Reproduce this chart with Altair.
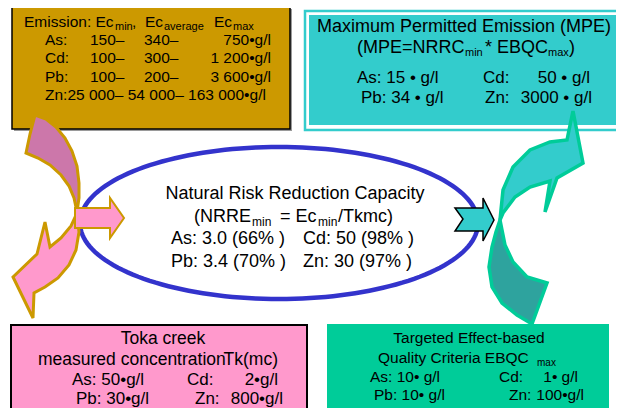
import math
import altair as alt
import pandas as pd

# ---------------- values shown in the diagram ----------------
elements = ["As", "Cd", "Pb", "Zn"]
ec_min = ["150", "100", "100", "25 000"]
ec_avg = ["340", "300", "200", "54 000"]
ec_max = ["750", "1 200", "3 600", "163 000"]
mpe = ["15", "50", "34", "3000"]
nrrc = ["3.0", "50", "3.4", "30"]
nrrc_pct = ["66%", "98%", "70%", "97%"]
tkmc = ["50", "2", "30", "800"]
ebqc = ["10", "1", "10", "100"]
unit = "g/l"

# ---------------- layout (diagram geometry, page pixel coords) ----------------
PROJ = dict(type="identity", scale=1, translate=[-8, -8])
FONT = "Liberation Sans"


def poly(pts):
    ring = [list(p) for p in pts] + [list(pts[0])]
    return {"type": "Feature", "properties": {},
            "geometry": {"type": "Polygon", "coordinates": [ring]}}


def rect(x0, y0, x1, y1):
    return [(x0, y0), (x1, y0), (x1, y1), (x0, y1)]


def shape(pts, **mark):
    return (alt.Chart(alt.Data(values=[poly(pts)]))
            .mark_geoshape(**mark).project(**PROJ))


ell = [(279 + 199 * math.cos(2 * math.pi * k / 160),
        223 + 76 * math.sin(2 * math.pi * k / 160)) for k in range(160)]

purple_arrow = [(35, 115), (46, 119), (56, 127), (65, 138), (72, 151), (77, 166),
                (79, 183), (79, 198), (77, 212), (74, 198), (69, 186), (61, 175),
                (50, 165), (38, 158), (26, 153), (30, 134)]
pink_curved = [(77, 213), (79, 232), (76, 250), (69, 265), (58, 278), (45, 287),
               (34, 293), (33, 318), (13, 277), (37, 254), (45, 222), (50, 247),
               (61, 238), (71, 226)]
pink_straight = [(75, 208), (110, 208), (110, 198), (124, 218), (110, 238),
                 (110, 228), (75, 228)]
teal_small = [(455, 208), (483, 208), (483, 198), (494, 220), (483, 241),
              (483, 231), (455, 231), (463, 219)]
teal_up = [(500, 220), (503, 190), (513, 167), (530, 150), (550, 142), (567, 140),
           (568, 135), (573, 111), (583, 163), (557, 178), (545, 212), (550, 181),
           (530, 187), (515, 197), (503, 213)]
teal_down = [(500, 220), (496, 232), (492, 247), (489, 267), (492, 287), (502, 303),
             (517, 315), (532, 324), (547, 283), (527, 277), (513, 262), (505, 245),
             (502, 230)]

layers = [
    shape(rect(14, 9, 292, 131), fill="#9a9a9a", strokeWidth=0),
    shape(rect(12, 7, 290, 129), fill="#CC9900", stroke="black", strokeWidth=1.5),
    shape(rect(305, 11, 640, 130), fill="white", stroke="#33CCCC", strokeWidth=2.5),
    shape(rect(309, 15, 640, 125), fill="#33CCCC", strokeWidth=0),
    shape(rect(11, 325, 307, 440), fill="#FF99CC", stroke="black", strokeWidth=2),
    shape(rect(327, 324, 609, 440), fill="#00CC99", strokeWidth=0),
    shape(ell, filled=False, stroke="#3333CC", strokeWidth=4.5),
    shape(purple_arrow, fill="#CC77AA", stroke="#CC9900", strokeWidth=3),
    shape(pink_curved, fill="#FF99CC", stroke="#CC9900", strokeWidth=3),
    shape(pink_straight, fill="#FF99CC", stroke="#CC9900", strokeWidth=2),
    shape(teal_small, fill="#33CCCC", stroke="black", strokeWidth=1.5),
    shape(teal_down, fill="#2EA39E", stroke="#00CC99", strokeWidth=3.5),
    shape(teal_up, fill="#33CCCC", stroke="#00CC99", strokeWidth=3.5),
]

# ---------------- texts ----------------
texts = []


def T(x, y, s, size, align="left"):
    texts.append(dict(x=x, y=y, text=s, size=size, align=align))


# Emission box
T(24, 27, "Emission: Ec", 15.5); T(115, 30, "min", 11); T(132, 27, ",", 15.5)
T(145, 27, "Ec", 15.5); T(164, 30, "average", 11)
T(214, 27, "Ec", 15.5); T(233, 30, "max", 11)
for i, y in enumerate([45, 63, 82]):
    T(45, y, f"{elements[i]}:", 15.5)
    T(90, y, f"{ec_min[i]}–", 15.5)
    T(144, y, f"{ec_avg[i]}–", 15.5)
    T(271, y, f"{ec_max[i]}•{unit}", 15.5, "right")
T(45, 100, f"{elements[3]}:{ec_min[3]}– {ec_avg[3]}– {ec_max[3]}•{unit}", 15.5)

# MPE box
T(464, 32, "Maximum Permitted Emission (MPE)", 18, "center")
T(464.5, 53, "(MPE=NRRC", 18, "right"); T(465, 56, "min", 11)
T(485, 53, "* EBQC", 18); T(548, 56, "max", 11); T(569, 53, ")", 18)
T(357, 83, f"{elements[0]}: {mpe[0]} • {unit}", 17); T(483, 83, f"{elements[1]}:", 17)
T(590, 83, f"{mpe[1]} • {unit}", 17, "right")
T(361, 103, f"{elements[2]}: {mpe[2]} • {unit}", 17); T(485, 103, f"{elements[3]}:", 17)
T(592, 103, f"{mpe[3]} • {unit}", 17, "right")

# Ellipse
T(295, 199, "Natural Risk Reduction Capacity", 18, "center")
T(194, 222, "(NRRE", 18); T(252, 226, "min", 12); T(280, 222, "= Ec", 18)
T(318, 226, "min", 12); T(338, 222, "/Tkmc)", 18)
for i, (x, y) in enumerate([(171, 244), (303, 244), (171, 267), (303, 267)]):
    T(x, y, f"{elements[i]}: {nrrc[i]} ({nrrc_pct[i]} )", 18)

# Toka creek box
T(163, 344, "Toka creek", 17.5, "center")
T(38, 365, "measured concentration", 17.5); T(278, 365, "Tk(mc)", 17.5, "right")
T(72, 385, f"{elements[0]}:  {tkmc[0]}•{unit}", 17); T(187, 385, f"{elements[1]}:", 17)
T(278, 385, f"{tkmc[1]}•{unit}", 17, "right")
T(76, 404, f"{elements[2]}:  {tkmc[2]}•{unit}", 17); T(195, 404, f"{elements[3]}:", 17)
T(283, 404, f"{tkmc[3]}•{unit}", 17, "right")

# EBQC box
T(469, 343, "Targeted Effect-based", 15.5, "center")
T(378, 363, "Quality Criteria EBQC", 15.5); T(537, 366, "max", 10)
T(370, 382, f"{elements[0]}: {ebqc[0]}• {unit}", 15.5); T(499, 382, f"{elements[1]}:", 15.5)
T(578, 382, f"{ebqc[1]}• {unit}", 15.5, "right")
T(374, 400, f"{elements[2]}: {ebqc[2]}• {unit}", 15.5); T(509, 400, f"{elements[3]}:", 15.5)
T(584, 400, f"{ebqc[3]}•{unit}", 15.5, "right")

tdf = pd.DataFrame(texts)


def text_layer(align):
    return (alt.Chart(tdf[tdf["align"] == align])
            .mark_text(align=align, baseline="alphabetic", font=FONT, color="black")
            .encode(longitude="x:Q", latitude="y:Q", text="text:N",
                    size=alt.Size("size:Q", scale=None))
            .project(**PROJ))


layers += [text_layer("left"), text_layer("center"), text_layer("right")]

chart = (alt.layer(*layers)
         .properties(width=608, height=400, padding=0, autosize="none",
                     background="white")
         .configure_view(stroke=None))

chart.save("out.html", embed_options={"renderer": "svg", "actions": False})
